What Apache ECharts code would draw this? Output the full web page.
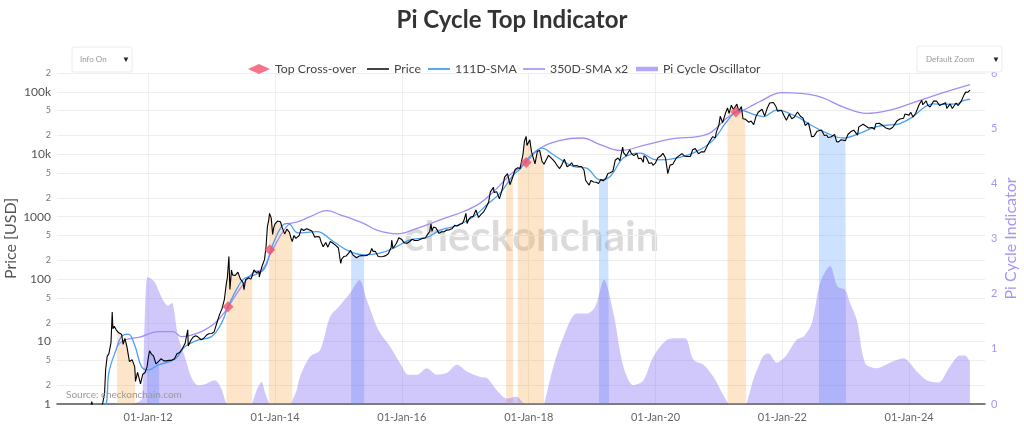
<!DOCTYPE html>
<html><head><meta charset="utf-8">
<script src="https://cdn.jsdelivr.net/npm/echarts@6/dist/echarts.min.js"></script>
<style>html,body{margin:0;padding:0;background:#fff}#c{width:1024px;height:434px}</style>
</head><body><div id="c"></div>
<script>
// ---------------- DATA ----------------
const xRange = ['2010-07-25', '2025-03-13'];
const xTickDates = ['2012-01-01','2014-01-01','2016-01-01','2018-01-01','2020-01-01','2022-01-01','2024-01-01'];
const yTicks = [1,2,5,10,20,50,100,200,500,1000,2000,5000,10000,20000,50000,100000,200000];
const yTickLabels = ['1','2','5','10','2','5','100','2','5','1000','2','5','10k','2','5','100k','2'];
const yMajor = [1,10,100,1000,10000,100000];
const legendNames = ['Top Cross-over','Price','111D-SMA','350D-SMA x2','Pi Cycle Oscillator'];

const price = [
['2010-07-18',0.09],['2010-08-01',0.06],['2010-08-15',0.07],['2010-09-01',0.06],['2010-09-15',0.06],['2010-10-01',0.06],['2010-10-15',0.10],['2010-11-01',0.19],['2010-11-07',0.39],['2010-11-15',0.27],['2010-12-01',0.21],['2010-12-15',0.24],
['2011-01-01',0.30],['2011-01-15',0.40],['2011-02-01',0.70],['2011-02-10',1.09],['2011-02-20',0.85],['2011-03-01',0.90],['2011-03-15',0.87],['2011-04-01',0.78],['2011-04-15',1.05],['2011-04-25',1.5],['2011-05-01',3.5],['2011-05-10',5.8],['2011-05-20',6.4],['2011-06-01',9.6],['2011-06-08',29.6],['2011-06-12',16],['2011-06-20',17.5],['2011-07-01',15.4],['2011-07-06',14.5],['2011-07-15',13.8],['2011-08-01',13.1],['2011-08-10',9.0],['2011-08-20',11.2],['2011-09-01',8.2],['2011-09-15',4.8],['2011-10-01',5.1],['2011-10-15',4.0],['2011-10-18',3.1],['2011-10-20',2.3],['2011-11-01',3.2],['2011-11-18',2.1],['2011-12-01',3.0],['2011-12-15',3.2],['2011-12-26',4.0],
['2012-01-01',5.3],['2012-01-09',7.1],['2012-01-20',6.3],['2012-02-01',5.9],['2012-02-15',4.4],['2012-03-04',4.9],['2012-03-15',5.3],['2012-04-01',4.9],['2012-04-15',4.9],['2012-05-01',5.0],['2012-05-15',5.0],['2012-06-01',5.3],['2012-06-15',6.4],['2012-07-01',6.7],['2012-07-15',7.6],['2012-08-01',9.4],['2012-08-16',15.4],['2012-08-19',8.5],['2012-09-01',10.2],['2012-09-15',11.7],['2012-10-01',12.4],['2012-10-15',11.8],['2012-11-01',10.7],['2012-11-15',11.2],['2012-12-01',12.6],['2012-12-15',13.3],
['2013-01-01',13.5],['2013-01-15',14.3],['2013-02-01',20.4],['2013-02-15',27],['2013-03-01',33.4],['2013-03-15',47],['2013-03-27',88],['2013-04-01',104],['2013-04-10',230],['2013-04-16',68],['2013-04-25',140],['2013-05-01',117],['2013-05-15',114],['2013-06-01',129],['2013-06-15',101],['2013-07-01',88],['2013-07-06',68],['2013-07-15',98],['2013-08-01',105],['2013-08-15',100],['2013-08-22',113],['2013-09-01',140],['2013-09-15',127],['2013-10-01',132],['2013-10-02',108],['2013-10-15',152],['2013-11-01',205],['2013-11-10',330],['2013-11-18',700],['2013-11-26',900],['2013-11-30',1130],['2013-12-04',1150],['2013-12-10',950],['2013-12-18',520],['2013-12-25',680],
['2014-01-01',770],['2014-01-15',850],['2014-02-01',830],['2014-02-10',680],['2014-02-25',530],['2014-03-10',630],['2014-03-25',560],['2014-04-03',450],['2014-04-10',400],['2014-04-20',500],['2014-05-01',450],['2014-05-20',500],['2014-06-01',640],['2014-06-15',600],['2014-07-01',640],['2014-07-15',620],['2014-08-01',590],['2014-08-18',470],['2014-09-01',480],['2014-09-15',470],['2014-09-22',400],['2014-10-05',330],['2014-10-20',385],['2014-11-01',325],['2014-11-15',400],['2014-12-01',375],['2014-12-15',350],
['2015-01-01',315],['2015-01-14',178],['2015-01-20',210],['2015-02-01',230],['2015-02-15',235],['2015-03-01',260],['2015-03-11',290],['2015-03-15',275],['2015-03-25',245],['2015-04-01',245],['2015-04-15',220],['2015-05-01',235],['2015-05-15',238],['2015-05-29',237],['2015-06-15',240],['2015-07-01',257],['2015-07-12',310],['2015-07-20',278],['2015-08-01',280],['2015-08-18',230],['2015-09-01',228],['2015-09-15',230],['2015-10-01',238],['2015-10-15',255],['2015-11-01',325],['2015-11-04',420],['2015-11-11',310],['2015-11-20',325],['2015-12-01',375],['2015-12-15',460],
['2016-01-01',430],['2016-01-15',380],['2016-02-01',375],['2016-02-15',400],['2016-03-01',435],['2016-03-15',415],['2016-04-01',415],['2016-04-15',430],['2016-05-01',450],['2016-05-15',455],['2016-06-01',535],['2016-06-10',580],['2016-06-17',760],['2016-06-23',580],['2016-07-01',680],['2016-07-15',665],['2016-08-02',540],['2016-08-15',570],['2016-09-01',575],['2016-09-15',610],['2016-10-01',615],['2016-10-15',640],['2016-11-01',730],['2016-11-15',710],['2016-12-01',755],['2016-12-15',780],['2016-12-25',890],
['2017-01-04',1130],['2017-01-11',780],['2017-01-20',895],['2017-02-01',990],['2017-02-15',1010],['2017-03-03',1280],['2017-03-18',970],['2017-03-31',1080],['2017-04-15',1180],['2017-05-01',1420],['2017-05-15',1720],['2017-05-25',2500],['2017-06-01',2400],['2017-06-12',2950],['2017-06-15',2450],['2017-07-01',2500],['2017-07-16',1930],['2017-08-01',2720],['2017-08-15',4300],['2017-08-24',4300],['2017-09-01',4900],['2017-09-15',3250],['2017-10-02',4400],['2017-10-15',5700],['2017-10-30',6100],['2017-11-12',5900],['2017-11-29',10000],['2017-12-07',16000],['2017-12-17',19300],['2017-12-22',13800],['2017-12-31',14000],
['2018-01-07',17000],['2018-01-17',11000],['2018-01-28',11700],['2018-02-06',7000],['2018-02-20',11200],['2018-03-05',11500],['2018-03-18',7800],['2018-03-30',6900],['2018-04-06',6600],['2018-04-25',9600],['2018-05-05',9800],['2018-05-20',8200],['2018-06-01',7500],['2018-06-15',6500],['2018-06-28',5900],['2018-07-10',6700],['2018-07-25',8300],['2018-08-10',6300],['2018-08-25',6700],['2018-09-05',7300],['2018-09-15',6500],['2018-10-01',6600],['2018-10-15',6400],['2018-11-01',6350],['2018-11-15',5600],['2018-11-25',3800],['2018-12-01',4000],['2018-12-15',3200],['2018-12-25',3800],
['2019-01-10',3600],['2019-01-25',3550],['2019-02-07',3400],['2019-02-10',3650],['2019-02-20',3950],['2019-03-05',3750],['2019-03-20',4050],['2019-04-02',4900],['2019-04-09',5200],['2019-04-15',5050],['2019-05-01',5350],['2019-05-14',8000],['2019-05-30',8700],['2019-06-10',7900],['2019-06-26',13000],['2019-07-01',10600],['2019-07-16',9400],['2019-07-25',9800],['2019-08-06',11800],['2019-08-15',10300],['2019-08-29',9500],['2019-09-15',10300],['2019-09-25',8500],['2019-10-10',8600],['2019-10-23',7450],['2019-10-27',9500],['2019-11-10',8800],['2019-11-25',7100],['2019-12-10',7300],['2019-12-18',6650],['2019-12-31',7200],
['2020-01-15',8800],['2020-01-31',9350],['2020-02-13',10350],['2020-02-28',8700],['2020-03-08',8100],['2020-03-12',4900],['2020-03-25',6700],['2020-04-10',6900],['2020-04-30',8700],['2020-05-15',9400],['2020-06-01',10200],['2020-06-15',9400],['2020-07-01',9200],['2020-07-20',9200],['2020-08-02',11800],['2020-08-17',12300],['2020-09-05',10200],['2020-09-20',10900],['2020-10-08',10900],['2020-10-21',12800],['2020-11-05',15500],['2020-11-25',19100],['2020-12-10',18300],['2020-12-17',22800],['2020-12-31',29000],
['2021-01-08',40500],['2021-01-22',32000],['2021-02-01',33500],['2021-02-08',46000],['2021-02-19',55000],['2021-02-28',45000],['2021-03-13',61000],['2021-03-25',52000],['2021-04-14',63500],['2021-04-25',49000],['2021-05-10',58000],['2021-05-19',37000],['2021-06-01',36500],['2021-06-06',36000],['2021-06-22',32500],['2021-07-05',34000],['2021-07-20',29800],['2021-08-01',39800],['2021-08-15',47000],['2021-09-06',52500],['2021-09-21',40700],['2021-10-06',55000],['2021-10-20',66000],['2021-11-10',67500],['2021-11-25',58000],['2021-12-04',49000],['2021-12-15',48500],['2021-12-27',50700],
['2022-01-10',41800],['2022-01-24',35000],['2022-02-10',44000],['2022-02-24',37000],['2022-03-10',39000],['2022-03-29',47500],['2022-04-15',40500],['2022-04-30',37800],['2022-05-12',28900],['2022-05-31',31800],['2022-06-13',22500],['2022-06-18',19000],['2022-07-01',19300],['2022-07-20',23400],['2022-07-31',23300],['2022-08-14',24400],['2022-08-31',20000],['2022-09-13',20300],['2022-09-21',18500],['2022-10-10',19100],['2022-10-29',20800],['2022-11-09',15900],['2022-11-21',15800],['2022-12-05',17100],['2022-12-30',16500],
['2023-01-03',16700],['2023-01-14',20900],['2023-01-31',23100],['2023-02-16',24300],['2023-03-10',20200],['2023-03-17',27400],['2023-04-11',30300],['2023-04-26',28400],['2023-05-12',26300],['2023-06-01',26800],['2023-06-15',25100],['2023-06-23',30700],['2023-07-13',31400],['2023-07-31',29200],['2023-08-17',26600],['2023-09-11',25100],['2023-09-29',27000],['2023-10-24',34500],['2023-11-09',36700],['2023-11-30',37700],['2023-12-08',44000],['2023-12-31',42300],
['2024-01-11',46800],['2024-01-23',39500],['2024-02-08',45300],['2024-02-28',62500],['2024-03-14',73100],['2024-03-20',62000],['2024-04-08',71600],['2024-04-17',61300],['2024-05-01',57000],['2024-05-21',71000],['2024-06-07',71100],['2024-06-24',60300],['2024-07-05',56700],['2024-07-29',66800],['2024-08-05',54000],['2024-08-24',64000],['2024-09-06',53900],['2024-09-27',66000],['2024-10-10',60300],['2024-10-29',72300],['2024-11-05',68500],['2024-11-13',90000],['2024-11-22',98800],['2024-12-05',98500],['2024-12-10',96500],['2024-12-17',106000]
];

const sma111 = [
['2010-11-06',0.08],['2011-01-01',0.2],['2011-02-15',0.35],['2011-04-01',0.75],['2011-05-04',1.0],['2011-05-20',3.2],['2011-07-04',7.9],['2011-07-31',12],['2011-09-08',13.2],['2011-10-20',8],['2011-11-23',4.0],['2012-01-01',3.5],['2012-02-27',4.2],['2012-06-03',5.2],['2012-07-31',8.3],['2012-10-16',10.6],['2012-12-31',12],
['2013-02-26',19.6],['2013-04-05',36],['2013-06-02',76],['2013-07-10',103],['2013-09-06',117],['2013-11-02',149],['2013-12-11',312],['2014-02-07',695],['2014-03-17',780],['2014-05-14',550],['2014-08-29',575],['2014-12-03',400],
['2015-03-08',275],['2015-05-25',245],['2015-08-28',260],['2015-11-13',312],['2016-02-17',425],['2016-05-24',465],['2016-08-09',610],['2016-11-13',720],['2017-02-17',1000],['2017-05-05',1550],['2017-07-20',2380],['2017-10-05',4700],['2017-11-13',5800],['2017-12-19',8000],
['2018-01-28',10400],['2018-03-17',12500],['2018-05-23',9800],['2018-09-15',6380],['2018-12-01',5970],['2019-02-16',3900],['2019-04-15',4400],['2019-06-30',8700],['2019-10-04',10400],['2020-01-08',8100],['2020-05-03',8700],['2020-08-26',11100],['2020-11-30',17000],
['2021-02-15',33500],['2021-05-02',51000],['2021-07-18',43600],['2021-09-14',40000],['2021-11-30',51000],['2022-03-25',40000],['2022-06-10',29700],['2022-09-14',21800],['2022-12-18',18200],['2023-03-25',21800],['2023-06-28',27800],['2023-10-02',29700],['2023-11-10',31000],
['2024-01-24',40000],['2024-03-23',55000],['2024-05-18',64000],['2024-07-15',63000],['2024-10-02',64000],['2024-11-07',72000],['2024-12-17',76000]
];

const sma350x2 = [
['2011-07-04',8.3],['2011-08-19',10.6],['2011-11-15',11.8],['2012-02-27',14.4],['2012-05-24',14.4],['2012-07-10',12],['2012-09-06',12.7],['2012-11-02',14.4],['2013-01-19',19.6],['2013-03-18',30],['2013-06-22',76],['2013-09-06',132],['2013-10-15',139],['2013-12-11',274],
['2014-03-17',740],['2014-05-14',830],['2014-07-22',1000],['2014-10-26',1250],['2015-01-11',1070],['2015-05-25',780],['2015-08-10',610],['2015-12-03',530],['2016-03-28',650],['2016-08-09',890],['2016-12-22',1210],['2017-03-27',1650],['2017-06-12',2520],['2017-09-16',4700],['2017-11-13',6200],['2017-12-17',7400],
['2018-03-07',12500],['2018-07-01',16700],['2018-11-03',18200],['2019-02-16',14300],['2019-06-11',11500],['2019-11-12',14300],['2020-03-26',17500],['2020-10-23',20800],['2021-02-15',38000],['2021-04-10',47000],['2021-05-02',48000],['2021-06-26',57000],['2021-08-25',70000],['2021-12-29',97000],
['2022-07-18',86000],['2022-12-18',57000],['2023-05-02',45000],['2023-09-13',51000],['2024-02-14',70000],['2024-07-16',97000],['2024-12-17',130000]
];

const oscillator = [
['2011-07-06',0],['2011-10-18',0.02],['2011-11-26',0.1],['2011-12-09',1.2],['2011-12-28',2.30],['2012-01-18',2.27],['2012-02-10',2.2],['2012-02-28',2.07],['2012-03-16',1.95],['2012-04-06',1.83],['2012-04-25',1.78],['2012-05-16',1.83],['2012-05-24',1.8],['2012-06-22',1.22],['2012-07-30',0.86],['2012-09-05',0.49],['2012-10-15',0.34],['2012-11-23',0.36],
['2013-01-19',0.43],['2013-02-24',0.29],['2013-03-25',0.02],['2013-04-06',0],['2013-08-10',0],['2013-08-22',0.02],['2013-09-17',0.25],['2013-10-15',0.40],['2013-11-05',0.2],['2013-11-26',0.02],['2013-12-04',0],['2014-03-29',0],['2014-04-15',0.1],['2014-05-05',0.25],['2014-05-25',0.5],['2014-07-22',0.86],['2014-09-18',0.98],['2014-11-14',1.58],
['2015-01-11',1.79],['2015-03-09',2.01],['2015-05-02',2.25],['2015-06-14',1.88],['2015-08-19',1.34],['2015-10-26',1.04],['2015-12-22',0.74],['2016-02-08',0.53],['2016-03-28',0.53],['2016-05-24',0.65],['2016-07-21',0.53],['2016-09-16',0.56],['2016-11-13',0.71],['2017-01-10',0.59],['2017-03-27',0.49],['2017-05-05',0.47],['2017-07-01',0.25],['2017-08-28',0.1],['2017-09-27',0.12],['2017-10-24',0.13],['2017-11-30',0.02],['2017-12-17',0],
['2018-03-25',0],['2018-04-05',0.07],['2018-05-23',0.68],['2018-07-20',1.22],['2018-10-05',1.64],['2018-12-02',1.64],['2019-01-18',1.76],['2019-03-11',2.25],['2019-05-04',1.65],['2019-06-30',0.68],['2019-08-27',0.34],['2019-10-24',0.43],['2019-12-20',0.86],['2020-03-06',1.16],['2020-05-03',1.19],['2020-06-20',1.19],['2020-08-07',0.80],['2020-10-03',0.71],['2020-11-30',0.49],['2021-01-26',0.16],['2021-02-23',0.01],['2021-03-01',0],
['2021-06-02',0],['2021-06-17',0.1],['2021-07-18',0.45],['2021-08-25',0.75],['2021-09-13',0.87],['2021-10-12',0.92],['2021-11-30',0.75],['2022-01-16',0.85],['2022-03-25',1.17],['2022-05-02',1.22],['2022-06-19',1.46],['2022-08-06',2.19],['2022-10-03',2.50],['2022-11-14',2.13],['2022-12-28',2.07],['2023-01-26',1.83],['2023-03-06',1.52],['2023-04-23',0.74],['2023-06-29',0.65],['2023-09-13',0.75],['2023-11-29',0.83],
['2024-02-14',0.59],['2024-04-11',0.43],['2024-06-17',0.39],['2024-08-23',0.68],['2024-10-19',0.88],['2024-11-17',0.88],['2024-12-16',0.77]
];

const crossovers = [['2013-04-05',36],['2013-12-02',294],['2017-12-17',7360],['2021-04-08',47300]];

const orangeBands = [['2011-07-06','2011-10-18'],['2013-03-27','2013-08-22'],['2013-11-26','2014-04-10'],['2017-08-24','2017-10-02'],['2017-10-30','2018-03-30'],['2021-02-19','2021-06-06']];
const blueBands = [['2011-12-26','2012-03-04'],['2015-03-15','2015-05-29'],['2019-02-10','2019-04-09'],['2022-07-31','2023-01-03']];

// ---------------- BUILD ----------------
const ts = d => Date.parse(d);
const toXY = arr => arr.map(p => [ts(p[0]), p[1]]);
function bandData(bands) {
  const out = [];
  bands.forEach(b => {
    const s = ts(b[0]), e = ts(b[1]);
    price.forEach(p => { const t = ts(p[0]); if (t >= s && t <= e) out.push([t, p[1]]); });
    out.push([e + 86400000, '-']);
  });
  return out;
}
const MON = ['Jan','Feb','Mar','Apr','May','Jun','Jul','Aug','Sep','Oct','Nov','Dec'];
function fmtDate(v) {
  const d = new Date(v);
  return String(d.getUTCDate()).padStart(2,'0') + '-' + MON[d.getUTCMonth()] + '-' + String(d.getUTCFullYear()).slice(2);
}
function fmtY(v) {
  let i = -1, best = Infinity;
  yTicks.forEach((t, k) => { const r = Math.abs(Math.log(v / t)); if (r < best) { best = r; i = k; } });
  const isMaj = yMajor.indexOf(yTicks[i]) >= 0;
  return isMaj ? '{maj|' + yTickLabels[i] + '}' : '{mn|' + yTickLabels[i] + '}';
}
const xTicks = xTickDates.map(ts);
const FONT = 'Lato';
const purpleTxt = '#a596f7';
const lineIcon = 'path://M0,0h0.01v0.01h-0.01z M0,4.1H22V5.9H0z M22,10h-0.01v-0.01h0.01z';
const barIcon = 'path://M0,0h0.01v0.01h-0.01z M0,2.8H22V7.2H0z M22,10h-0.01v-0.01h0.01z';
const legendIcons = ['diamond', lineIcon, lineIcon, lineIcon, barIcon];
const legendColors = ['#f2506e', '#444', '#5aa8f5', '#b3a4f8', '#b4a7f9'];
const legendLeft = [248, 367, 428, 523, 636];

const legends = legendNames.map((n, i) => ({
  top: 63, left: legendLeft[i], itemWidth: 22, itemHeight: 10, padding: 0,
  textStyle: {fontFamily: FONT, fontSize: 12.3, color: '#444'},
  data: [{name: n, icon: legendIcons[i], itemStyle: {color: legendColors[i]}}]
}));

const chart = echarts.init(document.getElementById('c'), null, {renderer: 'canvas'});
chart.setOption({
  animation: false,
  backgroundColor: '#ffffff',
  textStyle: {fontFamily: FONT},
  title: {text: 'Pi Cycle Top Indicator', left: 'center', top: 3,
    textStyle: {fontFamily: FONT, fontSize: 24, fontWeight: 'bold', color: '#333'}},
  legend: legends,
  grid: {left: 57, right: 39, top: 73, bottom: 30, containLabel: false, outerBoundsMode: 'none'},
  xAxis: {
    type: 'value', min: ts(xRange[0]), max: ts(xRange[1]),
    axisLine: {show: true, onZero: false, lineStyle: {color: '#555', width: 1.5}},
    axisTick: {show: false, customValues: xTicks},
    axisLabel: {customValues: xTicks, formatter: fmtDate, color: '#666', fontSize: 11, margin: 8, fontFamily: FONT},
    splitLine: {show: true, lineStyle: {color: '#eeeeee', width: 1}}
  },
  yAxis: [
    {
      type: 'log', logBase: 10, min: 1, max: 200000, position: 'left',
      axisLine: {show: false}, axisTick: {show: false, customValues: yTicks},
      axisLabel: {customValues: yTicks, formatter: fmtY, margin: 6,
        rich: {maj: {fontSize: 12, color: '#555', fontFamily: FONT}, mn: {fontSize: 9, color: '#777', fontFamily: FONT}}},
      splitLine: {show: true, lineStyle: {color: '#eeeeee', width: 1}},
      name: 'Price [USD]', nameLocation: 'middle', nameGap: 38, nameRotate: 90, nameMoveOverlap: false,
      nameTextStyle: {fontSize: 16, color: '#555', fontFamily: FONT}
    },
    {
      type: 'value', min: 0, max: 6, interval: 1, position: 'right',
      axisLine: {show: false}, axisTick: {show: false}, splitLine: {show: false},
      axisLabel: {color: purpleTxt, fontSize: 11, margin: 6, fontFamily: FONT},
      name: 'Pi Cycle Indicator', nameLocation: 'middle', nameGap: 18, nameRotate: 90, nameMoveOverlap: false,
      nameTextStyle: {fontSize: 16, color: purpleTxt, fontFamily: FONT}
    }
  ],
  graphic: [
    {type: 'text', left: 404, top: 216, z: 0, silent: true,
      style: {text: 'checkonchain', font: 'bold 42px Lato', fill: 'rgba(0,0,0,0.14)'}},
    {type: 'text', left: 66, top: 390, z: 10, silent: true,
      style: {text: 'Source: checkonchain.com', font: '10px Lato', fill: '#999'}},
    {type: 'rect', shape: {x: 72, y: 47, width: 60, height: 25, r: 2}, z: 10,
      style: {fill: '#fff', stroke: '#ececec', lineWidth: 1}},
    {type: 'text', left: 80, top: 55, z: 11, style: {text: 'Info On', font: '8px Lato', fill: '#999'}},
    {type: 'text', left: 122, top: 55, z: 11, style: {text: '▼', font: '8px Lato', fill: '#223'}},
    {type: 'rect', shape: {x: 917, y: 46, width: 85, height: 26, r: 2}, z: 10,
      style: {fill: '#fff', stroke: '#ececec', lineWidth: 1}},
    {type: 'text', left: 926, top: 55, z: 11, style: {text: 'Default Zoom', font: '8px Lato', fill: '#999'}},
    {type: 'text', left: 992, top: 55, z: 11, style: {text: '▼', font: '8px Lato', fill: '#223'}}
  ],
  series: [
    {name: 'orangeBand', type: 'line', data: bandData(orangeBands), symbol: 'none', silent: true,
      lineStyle: {width: 0, opacity: 0}, areaStyle: {color: 'rgba(248,160,60,0.4)', origin: 'start'}, connectNulls: false, z: 1},
    {name: 'blueBand', type: 'line', data: bandData(blueBands), symbol: 'none', silent: true,
      lineStyle: {width: 0, opacity: 0}, areaStyle: {color: 'rgba(80,155,250,0.42)', origin: 'start'}, connectNulls: false, z: 1},
    {name: 'Pi Cycle Oscillator', type: 'line', yAxisIndex: 1, data: toXY(oscillator), symbol: 'none', smooth: 0.3,
      itemStyle: {color: '#b4a7f9'},
      lineStyle: {width: 0, opacity: 0}, areaStyle: {color: 'rgba(121,97,245,0.5)', origin: 'start'}, z: 2},
    {name: '350D-SMA x2', type: 'line', data: toXY(sma350x2), symbol: 'none', smooth: 0.4,
      itemStyle: {color: '#a08ef6'}, lineStyle: {color: '#a08ef6', width: 1.3}, z: 3},
    {name: '111D-SMA', type: 'line', data: toXY(sma111), symbol: 'none', smooth: 0.4,
      itemStyle: {color: '#4a9ff5'}, lineStyle: {color: '#4a9ff5', width: 1.3}, z: 4},
    {name: 'Price', type: 'line', data: toXY(price), symbol: 'none',
      itemStyle: {color: '#222'}, lineStyle: {color: '#000', width: 1.1}, z: 5},
    {name: 'Top Cross-over', type: 'scatter', data: toXY(crossovers), symbol: 'diamond', symbolSize: 11,
      itemStyle: {color: '#f2506e'}, z: 6}
  ]
});
</script></body></html>
